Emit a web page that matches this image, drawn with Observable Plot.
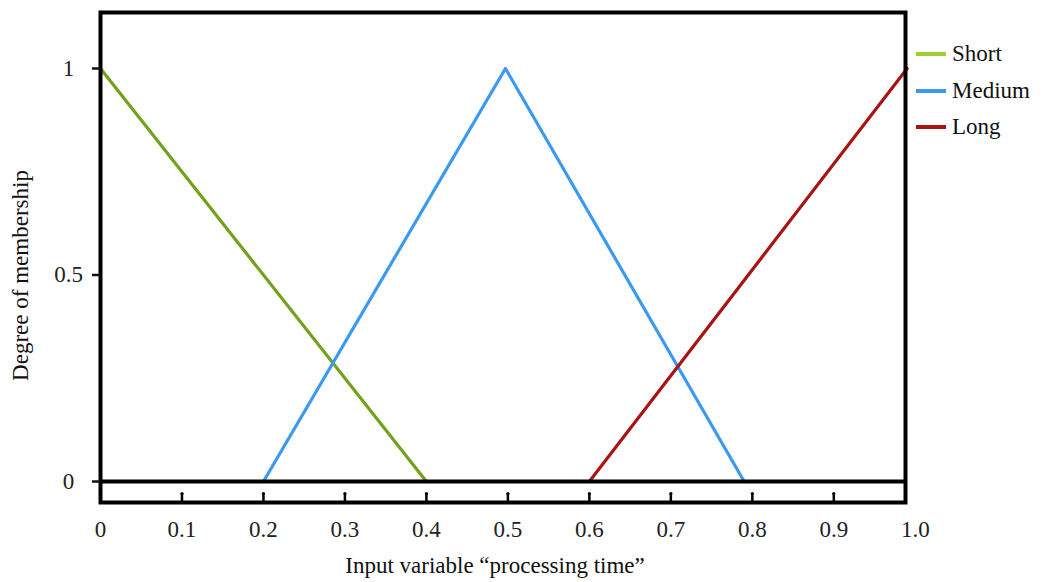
<!DOCTYPE html>
<html>
<head>
<meta charset="utf-8">
<script src="https://cdn.jsdelivr.net/npm/d3@7"></script>
<script src="https://cdn.jsdelivr.net/npm/@observablehq/plot@0.6"></script>
<style>
  body { margin: 0; background: #fff; }
  #wrap { position: relative; width: 1047px; height: 582px; font-family: "Liberation Serif", "DejaVu Serif", serif; }
  #legend { position: absolute; left: 916px; top: 36px; font-size: 23px; color: #111; }
  #legend div { display: flex; align-items: center; height: 36.5px; }
  #legend span.sw { display: inline-block; width: 30px; height: 4px; margin-right: 6px; }
</style>
</head>
<body>
<div id="wrap"><div id="chart"></div><div id="legend"></div></div>
<script>
const seriesNames = ["Short", "Medium", "Long"];
const seriesColors = ["#72a21c", "#3b9af0", "#a81414"];
const legendColors = ["#9fd12e", "#3b9af0", "#a81414"];
const shortX = [0, 0.4];
const shortY = [1, 0];
const mediumX = [0.2, 0.497, 0.79];
const mediumY = [0, 1, 0];
const longX = [0.6, 0.99];
const longY = [0, 1];
const xTickValues = [0.1, 0.2, 0.3, 0.4, 0.5, 0.6, 0.7, 0.8, 0.9];
const xLabelValues = [0, 0.1, 0.2, 0.3, 0.4, 0.5, 0.6, 0.7, 0.8, 0.9, 1.0];
const xLabelText = ["0", "0.1", "0.2", "0.3", "0.4", "0.5", "0.6", "0.7", "0.8", "0.9", "1.0"];
const yTickValues = [0, 0.5, 1];
const yLabelText = ["0", "0.5", "1"];
const xTitle = "Input variable \u201cprocessing time\u201d";
const yTitle = "Degree of membership";

const rows = [];
[[shortX, shortY], [mediumX, mediumY], [longX, longY]].forEach(([xs, ys], i) => {
  xs.forEach((x, j) => rows.push({series: seriesNames[i], x, y: ys[j]}));
});

const font = "Liberation Serif, DejaVu Serif, serif";
const chart = Plot.plot({
  width: 1047,
  height: 582,
  marginLeft: 100,
  marginRight: 142,
  marginTop: 12,
  marginBottom: 80,
  style: {fontFamily: font, color: "#111", background: "transparent"},
  x: {domain: [0, 0.988], axis: null},
  y: {domain: [-0.0508, 1.1356], axis: null},
  color: {domain: seriesNames, range: seriesColors},
  marks: [
    Plot.line(rows, {x: "x", y: "y", z: "series", stroke: "series", strokeWidth: 3.2}),
    Plot.ruleY([0], {stroke: "#000", strokeWidth: 4}),
    Plot.frame({stroke: "#000", strokeWidth: 4}),
    Plot.axisX(xTickValues, {anchor: "bottom", tickSize: -9, text: null, label: null, strokeWidth: 2.5, stroke: "#000"}),
    Plot.dot(xTickValues, {x: d => d, y: -0.0508, dy: -9, r: 1.6, fill: "#000"}),
    Plot.axisX(xLabelValues, {anchor: "bottom", tickSize: 0, tickPadding: 18, tickFormat: (d, i) => xLabelText[i], fontSize: 23, fill: "#222", label: null}),
    Plot.axisY(yTickValues, {anchor: "left", tickSize: 8, tickPadding: 24, textAnchor: "middle", strokeWidth: 2.5,
      tickFormat: (d, i) => yLabelText[i], fontSize: 23, fill: "#222", label: null}),
    Plot.text([xTitle], {frameAnchor: "bottom", dx: -8, dy: 70, fontSize: 23, fill: "#111", text: d => d}),
    Plot.text([yTitle], {frameAnchor: "left", textAnchor: "middle", rotate: -90, dx: -80, dy: 18, fontSize: 23, fill: "#111", text: d => d})
  ]
});
document.getElementById("chart").appendChild(chart);

const leg = document.getElementById("legend");
seriesNames.forEach((n, i) => {
  const d = document.createElement("div");
  d.innerHTML = `<span class="sw" style="background:${legendColors[i]}"></span><span>${n}</span>`;
  leg.appendChild(d);
});
</script>
</body>
</html>
